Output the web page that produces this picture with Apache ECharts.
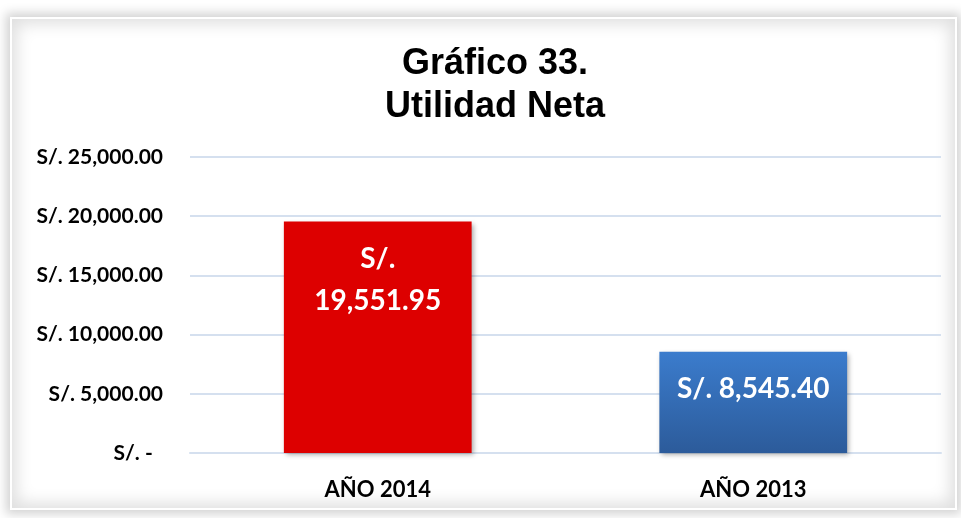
<!DOCTYPE html>
<html>
<head>
<meta charset="utf-8">
<script src="https://cdn.jsdelivr.net/npm/echarts@6/dist/echarts.min.js"></script>
<style>
  html, body { margin: 0; padding: 0; background: #fff; }
  #frame {
    position: absolute; left: 10px; top: 17px; width: 943px; height: 489px;
    border: 2px solid #fff;
    box-shadow: 0 0 10px 4px rgba(0,0,0,0.18), inset 0 0 16px 5px rgba(0,0,0,0.13);
  }
  #chart { position: absolute; left: 0; top: 0; width: 961px; height: 518px; }
</style>
</head>
<body>
<div id="frame"></div>
<div id="chart"></div>
<script>
const categories = ['AÑO 2014', 'AÑO 2013'];
const utilidad = [19551.95, 8545.40];
const barColors = [
  ['#DD0000', '#DD0000'],
  ['#3B7CCD', '#2C5B9A']
];

function money(v) {
  return v.toLocaleString('en-US', { minimumFractionDigits: 2, maximumFractionDigits: 2 });
}

const chart = echarts.init(document.getElementById('chart'));

const option = {
  backgroundColor: 'transparent',
  title: {
    text: 'Gráfico 33.\nUtilidad Neta',
    left: 490,
    textAlign: 'center',
    top: 38,
    textStyle: {
      fontFamily: 'Liberation Sans',
      fontWeight: 'bold',
      fontSize: 36,
      lineHeight: 43,
      color: '#000'
    }
  },
  grid: { left: 190, right: 20, top: 157, bottom: 65 },
  xAxis: {
    type: 'category',
    data: categories,
    axisLine: { lineStyle: { color: '#D5E0EF', width: 2 } },
    axisTick: { show: false },
    axisLabel: {
      margin: 26,
      fontFamily: 'Lato',
      fontWeight: 'bold',
      fontSize: 22,
      color: '#000'
    }
  },
  yAxis: {
    type: 'value',
    min: 0,
    max: 25000,
    interval: 5000,
    axisLine: { show: false },
    axisTick: { show: false },
    splitLine: { lineStyle: { color: '#D5E0EF', width: 2 } },
    axisLabel: {
      margin: 27,
      fontFamily: 'Lato',
      fontWeight: 'bold',
      fontSize: 21,
      color: '#000',
      formatter: v => v === 0 ? 'S/. -  ' : 'S/. ' + money(v)
    }
  },
  series: [{
    type: 'bar',
    barWidth: '50%',
    data: utilidad.map((v, i) => ({
      value: v,
      itemStyle: {
        color: new echarts.graphic.LinearGradient(0, 0, 0, 1, [
          { offset: 0, color: barColors[i][0] },
          { offset: 1, color: barColors[i][1] }
        ])
      }
    })),
    itemStyle: {
      shadowColor: 'rgba(0,0,0,0.35)',
      shadowBlur: 5,
      shadowOffsetX: 2,
      shadowOffsetY: 2
    },
    label: {
      show: true,
      position: 'insideTop',
      distance: 16,
      fontFamily: 'Lato',
      fontWeight: 'bold',
      fontSize: 28,
      lineHeight: 42,
      color: '#fff',
      formatter: p => p.value > 15000 ? 'S/.\n' + money(p.value) : 'S/. ' + money(p.value)
    }
  }]
};

chart.setOption(option);
</script>
</body>
</html>
